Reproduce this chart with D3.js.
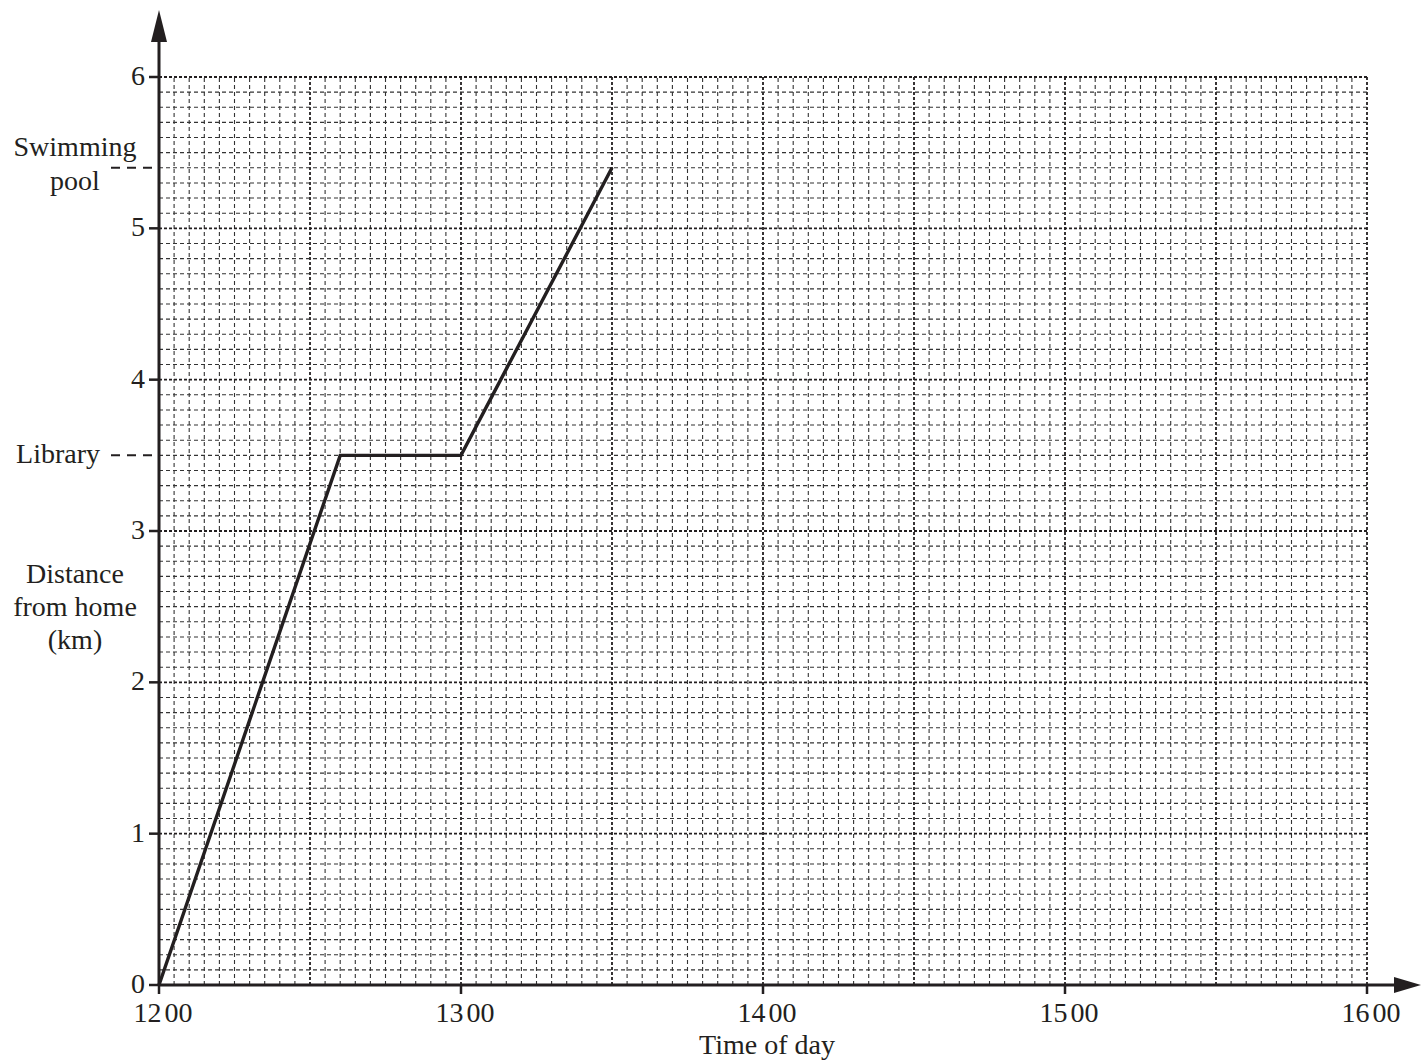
<!DOCTYPE html>
<html>
<head>
<meta charset="utf-8">
<script src="https://cdn.jsdelivr.net/npm/d3@7/dist/d3.min.js"></script>
<style>
  html, body { margin: 0; padding: 0; background: #fff; }
  svg { display: block; }
  svg text { font-family: "Liberation Serif", "Times New Roman", Times, serif; }
</style>
</head>
<body>
<svg id="chart" width="1421" height="1061"></svg>
<script>
// Journey data: minutes after 12 00 and distance from home (km)
const times = [0, 36, 60, 90];
const distances = [0, 3.5, 3.5, 5.4];

// Axis ticks
const timeTicks = [0, 60, 120, 180, 240];
const timeLabels = ["12", "13", "14", "15", "16"];
const distTicks = [0, 1, 2, 3, 4, 5, 6];

// Named places on the distance axis
const places = [["Swimming", "pool"], ["Library"]];
const placeDist = [5.4, 3.5];

const ink = "#231f20";
const svg = d3.select("#chart");

// Scales
const x = d3.scaleLinear().domain([0, 240]).range([159, 1367]);
const y = d3.scaleLinear().domain([0, 6]).range([985, 77]);

// Graph paper grid: minor every 3 min / 0.1 km, heavier every 30 min / 1 km
const grid = svg.append("g");
d3.range(1, 81).forEach((i) => {
  const t = i * 3;
  const major = i % 10 === 0;
  grid.append("line")
    .attr("x1", x(t)).attr("x2", x(t))
    .attr("y1", y(0)).attr("y2", y(6))
    .attr("stroke", major ? ink : "#333")
    .attr("stroke-width", major ? 1.8 : 1.1)
    .attr("stroke-dasharray", major ? "3,2" : "4,3");
});
d3.range(1, 61).forEach((i) => {
  const d = i / 10;
  const major = i % 10 === 0;
  grid.append("line")
    .attr("x1", x(0)).attr("x2", x(240))
    .attr("y1", y(d)).attr("y2", y(d))
    .attr("stroke", major ? ink : "#333")
    .attr("stroke-width", major ? 1.8 : 1.1)
    .attr("stroke-dasharray", major ? "3,2" : "4,3");
});

// Axes with arrows
const axes = svg.append("g").attr("stroke", ink).attr("stroke-width", 3);
axes.append("line").attr("x1", x(0)).attr("x2", x(0)).attr("y1", y(0) + 1).attr("y2", 40);
axes.append("line").attr("x1", x(0) - 1).attr("x2", 1400).attr("y1", y(0)).attr("y2", y(0));
svg.append("path")
  .attr("d", `M${x(0)},10 L${x(0) - 8},42 L${x(0) + 8},42 Z`)
  .attr("fill", ink);
svg.append("path")
  .attr("d", `M1421,${y(0)} L1394,${y(0) - 8} L1394,${y(0) + 8} Z`)
  .attr("fill", ink);

// Y ticks and labels
distTicks.forEach((d) => {
  axes.append("line")
    .attr("x1", x(0) - 10).attr("x2", x(0))
    .attr("y1", y(d)).attr("y2", y(d))
    .attr("stroke-width", 2.5);
  svg.append("text")
    .attr("x", 145).attr("y", y(d) + 8)
    .attr("text-anchor", "end")
    .attr("font-size", 28)
    .attr("fill", ink)
    .text(d);
});

// X ticks and labels
timeTicks.forEach((t, i) => {
  axes.append("line")
    .attr("x1", x(t)).attr("x2", x(t))
    .attr("y1", y(0)).attr("y2", y(0) + 9)
    .attr("stroke-width", 2.5);
  const lab = svg.append("text")
    .attr("x", x(t) + 4).attr("y", 1022)
    .attr("text-anchor", "middle")
    .attr("font-size", 28)
    .attr("fill", ink);
  lab.append("tspan").text(timeLabels[i]);
  lab.append("tspan").attr("dx", 3).text("00");
});

// Place markers on the distance axis
places.forEach((lines, i) => {
  const yy = y(placeDist[i]);
  svg.append("line")
    .attr("x1", 111).attr("x2", x(0))
    .attr("y1", yy).attr("y2", yy)
    .attr("stroke", ink).attr("stroke-width", 2)
    .attr("stroke-dasharray", "9,7");
  if (lines.length > 1) {
    lines.forEach((s, j) => {
      svg.append("text")
        .attr("x", 75).attr("y", yy - 12 + j * 34)
        .attr("text-anchor", "middle")
        .attr("font-size", 28)
        .attr("fill", ink)
        .text(s);
    });
  } else {
    svg.append("text")
      .attr("x", 100).attr("y", yy + 8)
      .attr("text-anchor", "end")
      .attr("font-size", 28)
      .attr("fill", ink)
      .text(lines[0]);
  }
});

// Axis titles
const yTitle = ["Distance", "from home", "(km)"];
yTitle.forEach((s, j) => {
  svg.append("text")
    .attr("x", 75).attr("y", 583 + j * 33)
    .attr("text-anchor", "middle")
    .attr("font-size", 28)
    .attr("fill", ink)
    .text(s);
});
svg.append("text")
  .attr("x", 767).attr("y", 1054)
  .attr("text-anchor", "middle")
  .attr("font-size", 28)
  .attr("fill", ink)
  .text("Time of day");

// Journey line
const line = d3.line().x((d, i) => x(times[i])).y((d) => y(d));
svg.append("path")
  .datum(distances)
  .attr("d", line)
  .attr("fill", "none")
  .attr("stroke", ink)
  .attr("stroke-width", 3.4)
  .attr("stroke-linejoin", "miter");
</script>
</body>
</html>
